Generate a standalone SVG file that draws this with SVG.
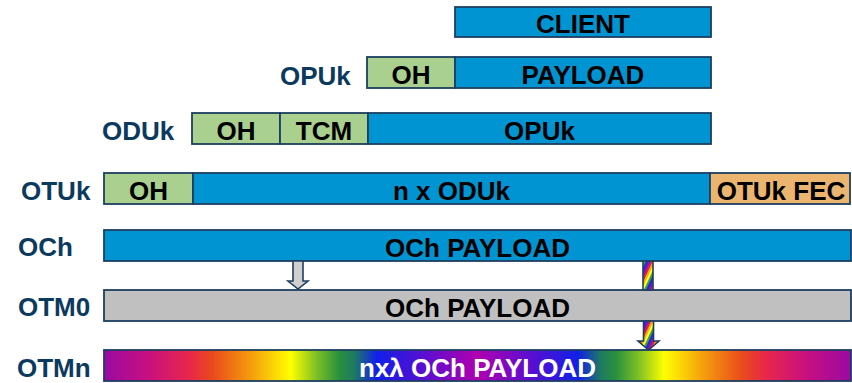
<svg xmlns="http://www.w3.org/2000/svg" width="852" height="383" viewBox="0 0 852 383">
<style>
.box{stroke:#1d3f60;stroke-width:1.8}
.blue{fill:#0095d2}
.green{fill:#a9d08e}
.fec{fill:#ebb570}
.gray{fill:#c0c0c0}
.t{font-family:"Liberation Sans",Arial,sans-serif;font-weight:bold;font-size:26px;fill:#000;text-anchor:middle}
.lbl{font-family:"Liberation Sans",Arial,sans-serif;font-weight:bold;font-size:26px;fill:#0b3a5e}
.w{fill:#fff}
.arr{stroke:#1d3f60;stroke-width:1.6}
</style>
<defs>
<linearGradient id="rainbow" x1="104" y1="0" x2="851" y2="0" gradientUnits="userSpaceOnUse">
<stop offset="0" stop-color="#9a0aa2"/>
<stop offset="0.06" stop-color="#c8107f"/>
<stop offset="0.115" stop-color="#e8284a"/>
<stop offset="0.145" stop-color="#e94a1c"/>
<stop offset="0.2" stop-color="#f5a20c"/>
<stop offset="0.25" stop-color="#ffff00"/>
<stop offset="0.285" stop-color="#7cbf26"/>
<stop offset="0.315" stop-color="#2a8f3e"/>
<stop offset="0.335" stop-color="#1e7a62"/>
<stop offset="0.365" stop-color="#1020e8"/>
<stop offset="0.42" stop-color="#5010d4"/>
<stop offset="0.5" stop-color="#b000b0"/>
<stop offset="0.58" stop-color="#5010d4"/>
<stop offset="0.635" stop-color="#1020e8"/>
<stop offset="0.665" stop-color="#1e7a62"/>
<stop offset="0.685" stop-color="#2a8f3e"/>
<stop offset="0.715" stop-color="#7cbf26"/>
<stop offset="0.75" stop-color="#ffff00"/>
<stop offset="0.8" stop-color="#f5a20c"/>
<stop offset="0.855" stop-color="#e94a1c"/>
<stop offset="0.885" stop-color="#e8284a"/>
<stop offset="0.94" stop-color="#c8107f"/>
<stop offset="1" stop-color="#9a0aa2"/>
</linearGradient>
<pattern id="stripes" width="12" height="12" patternUnits="userSpaceOnUse" patternTransform="rotate(25)">
<rect x="0" y="0" width="2" height="12" fill="#1a2ae0"/>
<rect x="2" y="0" width="2" height="12" fill="#8a10c0"/>
<rect x="4" y="0" width="2" height="12" fill="#e0204a"/>
<rect x="6" y="0" width="2" height="12" fill="#f5b000"/>
<rect x="8" y="0" width="2" height="12" fill="#ffff30"/>
<rect x="10" y="0" width="2" height="12" fill="#40a040"/>
</pattern>
</defs>

<g id="client">
<rect class="box blue" x="455" y="7" width="256" height="30"/>
<text class="t" x="583" y="33">CLIENT</text>
</g>

<g id="opuk">
<text class="lbl" x="280" y="85">OPUk</text>
<rect class="box green" x="367" y="57" width="88" height="31"/>
<rect class="box blue" x="455" y="57" width="256" height="31"/>
<text class="t" x="411" y="84">OH</text>
<text class="t" x="583" y="84">PAYLOAD</text>
</g>

<g id="oduk">
<text class="lbl" x="102" y="140">ODUk</text>
<rect class="box green" x="192" y="113" width="88" height="31"/>
<rect class="box green" x="280" y="113" width="88" height="31"/>
<rect class="box blue" x="368" y="113" width="343" height="31"/>
<text class="t" x="236" y="140">OH</text>
<text class="t" x="324" y="140">TCM</text>
<text class="t" x="539.5" y="140">OPUk</text>
</g>

<g id="otuk">
<text class="lbl" x="21" y="200">OTUk</text>
<rect class="box green" x="104" y="173" width="89" height="31"/>
<rect class="box blue" x="193" y="173" width="517" height="31"/>
<rect class="box fec" x="710" y="173" width="140" height="31"/>
<text class="t" x="148.5" y="200">OH</text>
<text class="t" x="451.5" y="200">n x ODUk</text>
<text class="t" x="781" y="200">OTUk FEC</text>
</g>

<g id="och">
<text class="lbl" x="18" y="256">OCh</text>
<rect class="box blue" x="104" y="230" width="747" height="31"/>
<text class="t" x="477.5" y="257">OCh PAYLOAD</text>
</g>

<g id="otm0">
<text class="lbl" x="18" y="316">OTM0</text>
<rect class="box gray" x="104" y="290" width="747" height="31"/>
<text class="t" x="477.5" y="317">OCh PAYLOAD</text>
</g>

<g id="otmn">
<text class="lbl" x="17" y="377">OTMn</text>
<rect class="box" x="104" y="350" width="747" height="31" fill="url(#rainbow)"/>
<text class="t w" x="477.5" y="377">nxλ OCh PAYLOAD</text>
</g>

<g id="connectors">
<path class="arr" d="M293,261 V281 H288 L298,289 L308,281 H303 V261 Z" fill="#cfcfcf"/>
<rect class="arr" x="643" y="261" width="10" height="29" fill="url(#stripes)"/>
<path class="arr" d="M643.5,321 V341 H638 L648.5,350 L659,341 H653.5 V321 Z" fill="url(#stripes)"/>
</g>
</svg>
